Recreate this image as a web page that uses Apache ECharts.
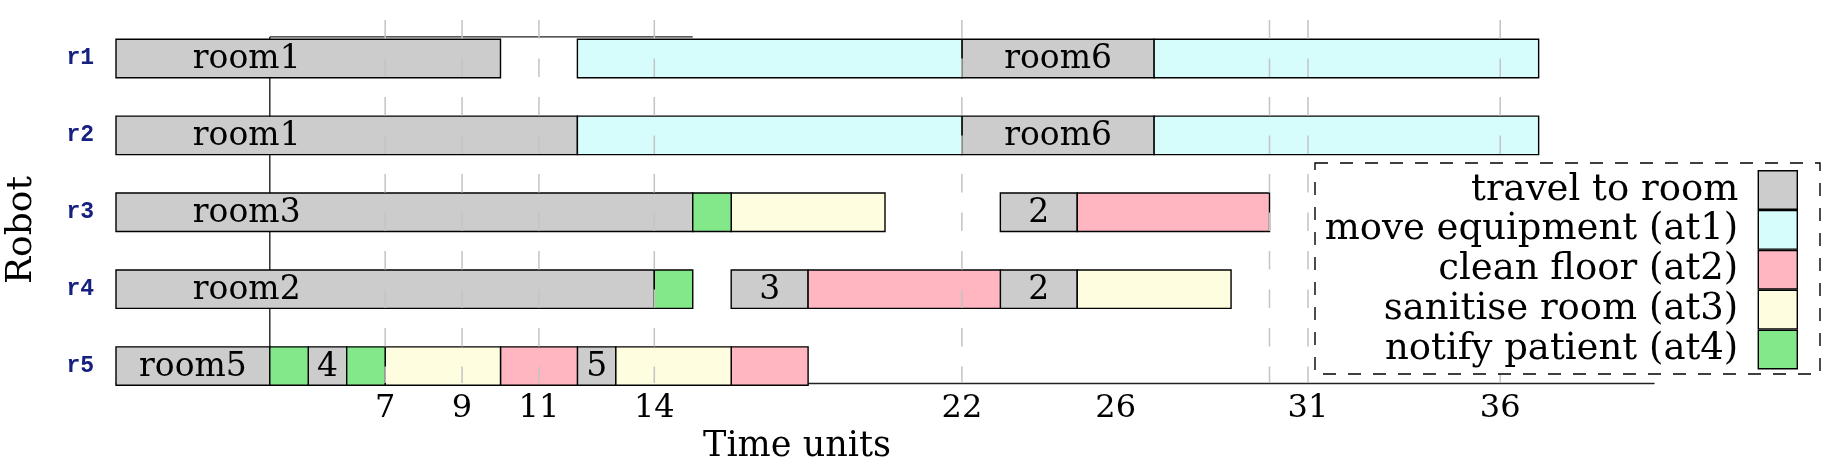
<!DOCTYPE html>
<html>
<head>
<meta charset="utf-8">
<script src="https://cdn.jsdelivr.net/npm/echarts@6/dist/echarts.min.js"></script>
<style>
html,body{margin:0;padding:0;background:#fff;}
#c{width:1822px;height:457px;}
</style>
</head>
<body>
<div id="c"></div>
<script>
// ---------- data ----------
const robots = ['r1', 'r2', 'r3', 'r4', 'r5'];
const activities = ['travel to room', 'move equipment (at1)', 'clean floor (at2)', 'sanitise room (at3)', 'notify patient (at4)'];
const activityColors = ['#cccccc', '#d6fcfc', '#ffb6c1', '#fffde0', '#82e88a'];
// [robot index, start, end, label]
const travel = [
  [0, 0, 10, 'room1'], [0, 22, 27, 'room6'],
  [1, 0, 12, 'room1'], [1, 22, 27, 'room6'],
  [2, 0, 15, 'room3'], [2, 23, 25, '2'],
  [3, 0, 14, 'room2'], [3, 16, 18, '3'], [3, 23, 25, '2'],
  [4, 0, 4, 'room5'], [4, 5, 6, '4'], [4, 12, 13, '5']
];
// [robot index, start, end]
const moveEquipment = [[0, 12, 22], [0, 27, 37], [1, 12, 22], [1, 27, 37]];
const cleanFloor = [[2, 25, 30], [3, 18, 23], [4, 10, 12], [4, 16, 18]];
const sanitiseRoom = [[2, 16, 20], [3, 25, 29], [4, 7, 10], [4, 13, 16]];
const notifyPatient = [[2, 15, 16], [3, 14, 15], [4, 4, 5], [4, 6, 7]];
const tickLabels = [7, 9, 11, 14, 22, 26, 31, 36];
const gridTicks = [7, 9, 11, 14, 22, 30, 31, 36];
const timeMin = 0, timeMax = 40;
const rowMin = -0.5, rowMax = 4.22;
const frameX = 4, frameTopEnd = 15, frameTopRow = -0.28;

// ---------- rendering ----------
const serifFont = 'DejaVu Serif';
const activityData = [travel, moveEquipment, cleanFloor, sanitiseRoom, notifyPatient];

function makeBarRender(src, withLabel) {
  return function (params, api) {
    const row = api.value(0);
    const st = api.value(1), en = api.value(2);
    const s = api.coord([st, row]);
    const e = api.coord([en, row]);
    const h = api.size([0, 0.5])[1];
    const children = [{
      type: 'rect',
      shape: { x: s[0], y: s[1] - h / 2, width: e[0] - s[0], height: h },
      style: { fill: api.visual('color'), stroke: '#000', lineWidth: 1.4 }
    }];
    if (withLabel) {
      const label = src[params.dataIndex][3];
      const cx = api.coord([st + Math.min((en - st) / 2, 3.4), row])[0];
      children.push({
        type: 'text',
        x: cx, y: s[1] + 1,
        style: { text: label, fontFamily: serifFont, fontSize: 33, fill: '#000', align: 'center', verticalAlign: 'middle' }
      });
    }
    return { type: 'group', children: children };
  };
}

const series = activities.map(function (name, i) {
  const src = activityData[i];
  return {
    name: name,
    type: 'custom',
    z: 2,
    itemStyle: { color: activityColors[i] },
    encode: { x: [1, 2], y: 0 },
    data: src.map(function (d) { return [d[0], d[1], d[2]]; }),
    renderItem: makeBarRender(src, i === 0)
  };
});

// frame lines (drawn under the bars)
series.push({
  type: 'custom',
  z: 1,
  silent: true,
  encode: { x: [0, 2], y: [1, 3] },
  data: [[frameX, frameTopRow, frameX, rowMax], [frameX, frameTopRow, frameTopEnd, frameTopRow]],
  renderItem: function (params, api) {
    const p1 = api.coord([api.value(0), api.value(1)]);
    const p2 = api.coord([api.value(2), api.value(3)]);
    return { type: 'line', shape: { x1: p1[0], y1: p1[1], x2: p2[0], y2: p2[1] }, style: { stroke: '#222', lineWidth: 1.4 } };
  }
});

// dashed vertical grid lines (drawn on top of bars)
series.push({
  type: 'custom',
  z: 3,
  silent: true,
  encode: { x: 0, y: 1 },
  data: gridTicks.map(function (t) { return [t, rowMin]; }),
  renderItem: function (params, api) {
    const t = api.value(0);
    const p1 = api.coord([t, rowMin]);
    const p2 = api.coord([t, rowMax]);
    return { type: 'line', shape: { x1: p1[0], y1: p1[1], x2: p2[0], y2: p2[1] }, style: { stroke: '#c4c4c4', lineWidth: 1.5, lineDash: [18.5, 20] } };
  }
});

const chart = echarts.init(document.getElementById('c'), null, { renderer: 'canvas' });
chart.setOption({
  animation: false,
  backgroundColor: '#fff',
  grid: { left: 116, right: 168, top: 20, bottom: 74, outerBoundsMode: 'none' },
  xAxis: {
    type: 'value', min: timeMin, max: timeMax, interval: 1,
    axisLine: { show: true, onZero: false, lineStyle: { color: '#222', width: 1.4 } },
    axisTick: { show: false },
    splitLine: { show: false },
    axisLabel: {
      formatter: function (v) { return tickLabels.indexOf(v) >= 0 ? String(v) : ''; },
      fontFamily: serifFont, fontSize: 32, color: '#000', margin: 10
    },
    name: 'Time units', nameLocation: 'middle', nameGap: 40,
    nameTextStyle: { fontFamily: serifFont, fontSize: 35, color: '#000', padding: [0, 176, 0, 0] }
  },
  yAxis: {
    type: 'value', inverse: true, min: rowMin, max: rowMax, interval: 0.5,
    axisLine: { show: false }, axisTick: { show: false }, splitLine: { show: false },
    axisLabel: {
      formatter: function (v) { return (Number.isInteger(v) && robots[v]) ? robots[v] : ''; },
      fontFamily: 'Liberation Mono', fontWeight: 'bold', fontSize: 23, color: '#15207f', margin: 22
    },
    name: 'Robot', nameLocation: 'middle', nameRotate: 90, nameGap: 76,
    nameTextStyle: { fontFamily: serifFont, fontSize: 36, color: '#000', padding: [0, 57, 0, 0] }
  },
  legend: {
    data: activities, orient: 'vertical', align: 'right', right: 24, top: 170,
    padding: 0, itemGap: 0, itemWidth: 39, itemHeight: 38.5, icon: 'rect', selectedMode: false, z: 20,
    itemStyle: { borderColor: '#000', borderWidth: 1.4 },
    textStyle: { fontFamily: serifFont, fontSize: 37, color: '#000', width: 440, align: 'right', lineHeight: 38, padding: [0, 15, 0, 0] }
  },
  graphic: [{
    type: 'rect', z: 10, silent: true,
    shape: { x: 1315, y: 163, width: 505, height: 211 },
    style: { fill: '#fff', stroke: '#000', lineWidth: 1.4, lineDash: [13, 12] }
  }],
  series: series
});
</script>
</body>
</html>
